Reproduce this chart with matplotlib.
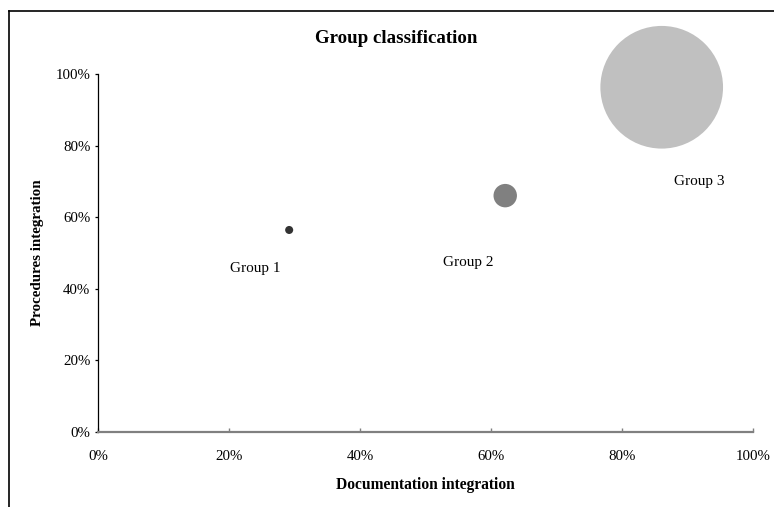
import matplotlib.pyplot as plt
from matplotlib.lines import Line2D
from matplotlib.ticker import PercentFormatter

plt.rcParams['font.family'] = ['Liberation Serif', 'DejaVu Serif']

# Datos de los grupos
grupos = ["Group 1", "Group 2", "Group 3"]
doc_integ = [0.292, 0.622, 0.861]
proc_integ = [0.564, 0.660, 0.963]
tam_burbuja = [0.43, 3.65, 100.0]   # tamano relativo (area)
colores = ["#333333", "#808080", "#c0c0c0"]

# Posicion de las etiquetas de cada grupo
pos_etiq = [(0.240, 0.455), (0.565, 0.472), (0.919, 0.699)]

fig = plt.figure(figsize=(7.74, 5.07), dpi=100)
ax = fig.add_axes([0.1266, 0.1485, 0.8459, 0.7055])

escala = 7800 / max(tam_burbuja)
for x, y, s, c in zip(doc_integ, proc_integ, tam_burbuja, colores):
    ax.scatter(x, y, s=s * escala, color=c, edgecolors="none", clip_on=False, zorder=3)

for g, (x, y) in zip(grupos, pos_etiq):
    ax.text(x, y, g, ha="center", va="center", fontsize=11)

ax.set_xlim(0, 1)
ax.set_ylim(0, 1)
ax.set_xticks([0, 0.2, 0.4, 0.6, 0.8, 1.0])
ax.set_yticks([0, 0.2, 0.4, 0.6, 0.8, 1.0])
ax.xaxis.set_major_formatter(PercentFormatter(1.0, decimals=0))
ax.yaxis.set_major_formatter(PercentFormatter(1.0, decimals=0))

for lado in ["top", "right"]:
    ax.spines[lado].set_visible(False)
ax.spines["bottom"].set_color("#808080")
ax.spines["bottom"].set_linewidth(1.6)
ax.spines["left"].set_color("black")
ax.spines["left"].set_linewidth(0.9)

ax.tick_params(axis="x", direction="in", length=3, width=1, color="#808080",
               pad=13, labelsize=10.7)
ax.tick_params(axis="y", direction="out", length=2.5, width=0.9, color="black",
               pad=3, labelsize=10.7)

ax.set_xlabel("Documentation integration", fontsize=11.2, fontweight="bold", labelpad=10)
ax.set_ylabel("Procedures integration", fontsize=10.8, fontweight="bold", labelpad=8)
fig.text(0.512, 0.925, "Group classification", ha="center", va="center",
         fontsize=13.6, fontweight="bold")

# Marco exterior del grafico
fig.add_artist(Line2D([9 / 774, 9 / 774], [0, 1 - 11 / 507], color="black", lw=1.2,
                      transform=fig.transFigure))
fig.add_artist(Line2D([9 / 774, 1], [1 - 11 / 507, 1 - 11 / 507], color="black", lw=1.2,
                      transform=fig.transFigure))

fig.savefig("out.png", dpi=100)
